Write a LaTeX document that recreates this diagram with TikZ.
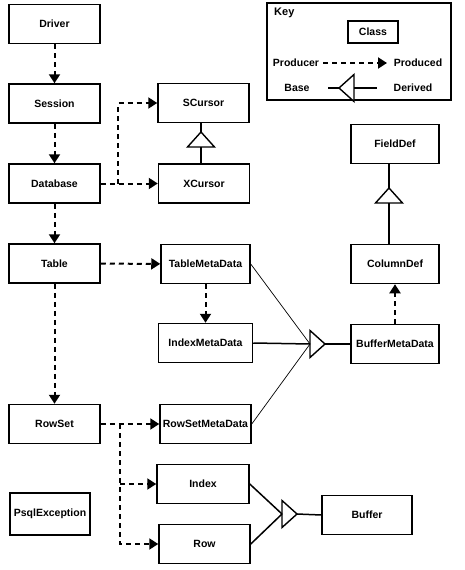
\documentclass[tikz,border=0pt]{standalone}
\usepackage{fontspec}
\setmainfont{Liberation Sans}
\usetikzlibrary{arrows.meta, shapes.geometric}

\begin{document}
\begin{tikzpicture}[x=1pt, y=-1pt,
    font=\bfseries\fontsize{10.5}{12}\selectfont,
    cls/.style={draw, line width=1.5pt, minimum width=91pt, minimum height=39pt, inner sep=0pt},
    produces/.style={line width=2pt, dash pattern=on 5pt off 4pt, -{Triangle[length=9pt, width=11pt]}},
    inherit/.style={draw, fill=white, line width=1.4pt, isosceles triangle, isosceles triangle stretches,
      inner sep=0pt, outer sep=0pt, minimum width=27pt, minimum height=15pt},
    derives/.style={line width=1.5pt},
    thinderives/.style={line width=0.7pt}]
  \useasboundingbox (0,0) rectangle (465,570);

  % Left column
  \node[cls] (driver) at (54.5,24) {Driver};
  \node[cls] (session) at (54.5,103.5) {Session};
  \node[cls] (database) at (54.5,183.5) {Database};
  \node[cls] (table) at (54.5,263.5) {Table};
  \node[cls] (rowset) at (54.5,424) {RowSet};
  \node[cls, minimum width=80pt, minimum height=42pt] (psqlexc) at (50,514) {PsqlException};

  % Cursors
  \node[cls] (scursor) at (203.5,103) {SCursor};
  \node[cls] (xcursor) at (204,183.5) {XCursor};

  % Meta data
  \node[cls, minimum width=89pt] (tablemeta) at (205.5,264) {TableMetaData};
  \node[cls, minimum width=94pt] (indexmeta) at (205.5,343) {IndexMetaData};
  \node[cls] (rowsetmeta) at (205.5,424) {RowSetMetaData};
  \node[cls, minimum width=88pt] (buffermeta) at (395,344) {BufferMetaData};
  \node[cls, minimum width=88pt] (columndef) at (395,264) {ColumnDef};
  \node[cls, minimum width=88pt] (fielddef) at (395,144) {FieldDef};

  % Rows and buffers
  \node[cls, minimum width=92pt] (index) at (203,484) {Index};
  \node[cls] (row) at (204.5,544) {Row};
  \node[cls, minimum width=90pt] (buffer) at (367,515) {Buffer};

  % Producer arrows
  \draw[produces] (driver) -- (session);
  \draw[produces] (session) -- (database);
  \draw[produces] (database) -- (table);
  \draw[produces] (table) -- (rowset);
  \draw[produces] (database) -- (xcursor);
  \coordinate (dbfork) at (118,183.5);
  \draw[produces] (dbfork) |- (scursor.west);
  \draw[produces] (table) -- (tablemeta);
  \draw[produces] (tablemeta) -- (indexmeta);
  \draw[produces] (buffermeta) -- (columndef);
  \draw[produces] (rowset) -- (rowsetmeta);
  \coordinate (rsfork) at (120,424);
  \draw[produces] (rsfork) |- (row.west);
  \draw[produces] (rsfork |- index.west) -- (index.west);

  % Inheritance
  \node[inherit, shape border rotate=90, anchor=apex] (curtri) at (201,132) {};
  \draw[derives] (curtri.apex) -- (curtri.apex |- scursor.south);
  \draw[derives] (curtri.lower side) -- (curtri.lower side |- xcursor.north);

  \node[inherit, shape border rotate=90, anchor=apex] (fieldtri) at (389,188) {};
  \draw[derives] (fieldtri.apex) -- (fieldtri.apex |- fielddef.south);
  \draw[derives] (fieldtri.lower side) -- (fieldtri.lower side |- columndef.north);

  \node[inherit, anchor=lower side] (metatri) at (310,344) {};
  \draw[thinderives] (tablemeta.east) -- (metatri.lower side);
  \draw[derives] (indexmeta.east) -- (metatri.lower side);
  \draw[thinderives] (rowsetmeta.east) -- (metatri.lower side);
  \draw[derives] (metatri.apex) -- (buffermeta.west);

  \node[inherit, anchor=lower side] (buftri) at (282,514) {};
  \draw[derives] (index.east) -- (buftri.lower side);
  \draw[derives] (row.east) -- (buftri.lower side);
  \draw[derives] (buftri.apex) -- (buffer.west);

  % Key
  \node[draw, line width=1.5pt, minimum width=184pt, minimum height=97pt, inner sep=0pt] (keybox) at (359,51.5) {};
  \node[anchor=north west, inner sep=0pt, font=\bfseries\fontsize{11}{12}\selectfont] (keytitle) at (274,8) {Key};
  \node[cls, minimum width=50pt, minimum height=22pt] (keyclass) at (373,32) {Class};
  \node (kproducer) at (296,63) {Producer};
  \node (kproduced) at (418,63) {Produced};
  \coordinate (kfrom) at (323,63);
  \coordinate (kto) at (387,63);
  \draw[produces] (kfrom) -- (kto);
  \node (kbase) at (297,88) {Base};
  \node (kderived) at (413,88) {Derived};
  \coordinate (kbaseend) at (328,88);
  \coordinate (kderend) at (377,88);
  \node[inherit, shape border rotate=180, anchor=apex] (keytri) at (339,88) {};
  \draw[derives] (kbaseend) -- (keytri.apex);
  \draw[derives] (keytri.lower side) -- (kderend);
\end{tikzpicture}
\end{document}
